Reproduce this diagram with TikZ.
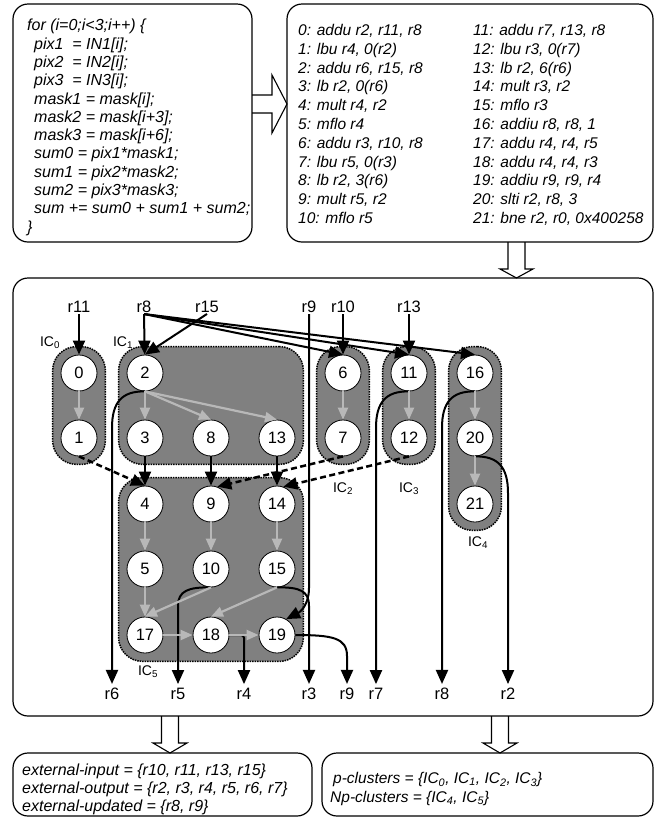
\documentclass[tikz,border=0pt]{standalone}
\usepackage{fontspec}
\setmainfont{Liberation Sans}
\usetikzlibrary{arrows.meta,fit,backgrounds}

\definecolor{clustergray}{gray}{0.5}
\definecolor{lightarrow}{gray}{0.72}

\tikzset{
  box/.style={draw, line width=1.2pt, rounded corners=15pt, inner sep=0pt},
  listing/.style={font=\fontsize{16}{18.3}\selectfont\itshape, align=left, inner sep=0pt, anchor=north west},
  op/.style={circle, draw, line width=0.8pt, fill=white, minimum size=36pt, inner sep=0pt, font=\fontsize{16.5}{18}\selectfont},
  reg/.style={font=\fontsize{16.5}{18}\selectfont, inner sep=1pt},
  iclabel/.style={font=\fontsize{14}{16}\selectfont, inner sep=0pt},
  cluster/.style={draw=black, densely dotted, line width=1.5pt, fill=clustergray, rounded corners=24pt, inner sep=8pt},
  dep/.style={line width=2pt, -{Triangle[length=14pt,width=12pt]}},
  ddep/.style={dep, line width=2.5pt, dash pattern=on 6pt off 3.5pt},
  gdep/.style={line width=2.2pt, draw=lightarrow, -{Triangle[length=12pt,width=10pt]}},
  blockarrow/.style={draw, line width=1.1pt, fill=white, line join=miter}
}

\begin{document}
\begin{tikzpicture}[x=1pt, y=-1pt]
  \useasboundingbox (0,0) rectangle (658,820);

  % hollow arrows between the frames
  \draw[blockarrow] (252,95) -- (272,95) -- (272,75) -- (287,104) -- (272,133) -- (272,113) -- (252,113);
  \draw[blockarrow] (508,242) -- (508,269) -- (500,269) -- (516.5,278) -- (533,269) -- (525,269) -- (525,242);
  \draw[blockarrow] (161.5,716) -- (161.5,743) -- (153,743) -- (170,753) -- (187,743) -- (178.5,743) -- (178.5,716);
  \draw[blockarrow] (491.5,716) -- (491.5,743) -- (483,743) -- (500,753) -- (517,743) -- (508.5,743) -- (508.5,716);

  % frames
  \node[box, fit={(13,4) (252,242)}] (srcbox) {};
  \node[box, fit={(287,4) (653,242)}] (asmbox) {};
  \node[box, fit={(13,278) (653,716)}] (dfgbox) {};
  \node[box, fit={(13,753) (312,816)}] (extbox) {};
  \node[box, fit={(322,753) (653,816)}] (clubox) {};

  % source loop
  \node[listing] (src) at (27,19) {for (i=0;i<3;i++) \{\\
    \hspace*{7pt}pix1\ \ = IN1[i];\\
    \hspace*{7pt}pix2\ \ = IN2[i];\\
    \hspace*{7pt}pix3\ \ = IN3[i];\\
    \hspace*{7pt}mask1 = mask[i];\\
    \hspace*{7pt}mask2 = mask[i+3];\\
    \hspace*{7pt}mask3 = mask[i+6];\\
    \hspace*{7pt}sum0 = pix1*mask1;\\
    \hspace*{7pt}sum1 = pix2*mask2;\\
    \hspace*{7pt}sum2 = pix3*mask3;\\
    \hspace*{7pt}sum += sum0 + sum1 + sum2;\\
    \}};

  % assembly
  \node[listing, font=\fontsize{15.5}{18.8}\selectfont\itshape] (asmleft) at (298,24) {0: addu r2, r11, r8\\
    1: lbu r4, 0(r2)\\
    2: addu r6, r15, r8\\
    3: lb r2, 0(r6)\\
    4: mult r4, r2\\
    5: mflo r4\\
    6: addu r3, r10, r8\\
    7: lbu r5, 0(r3)\\
    8: lb r2, 3(r6)\\
    9: mult r5, r2\\
    10: mflo r5};
  \node[listing, font=\fontsize{15.5}{18.8}\selectfont\itshape] (asmright) at (473,24) {11: addu r7, r13, r8\\
    12: lbu r3, 0(r7)\\
    13: lb r2, 6(r6)\\
    14: mult r3, r2\\
    15: mflo r3\\
    16: addiu r8, r8, 1\\
    17: addu r4, r4, r5\\
    18: addu r4, r4, r3\\
    19: addiu r9, r9, r4\\
    20: slti r2, r8, 3\\
    21: bne r2, r0, 0x400258};

  % instructions
  \foreach \n/\x/\y in {0/79/373, 1/79/438, 2/145/373, 3/145/438, 8/211/438, 13/277/438,
      6/343/373, 7/343/438, 11/409/373, 12/409/438, 16/475/373, 20/475/438, 21/475/504,
      4/145/504, 9/211/504, 14/277/504, 5/145/569, 10/211/569, 15/277/569,
      17/145/635, 18/211/635, 19/277/635}
    \node[op] (n\n) at (\x,\y) {\n};

  % clusters
  \begin{scope}[on background layer]
    \node[cluster, fit=(n0)(n1)] (ic0) {};
    \node[cluster, fit=(n2)(n3)(n8)(n13)] (ic1) {};
    \node[cluster, fit=(n6)(n7)] (ic2) {};
    \node[cluster, fit=(n11)(n12)] (ic3) {};
    \node[cluster, fit=(n16)(n20)(n21)] (ic4) {};
    \node[cluster, fit=(n4)(n14)(n17)(n19)] (ic5) {};
  \end{scope}
  \node[iclabel] (ic0lab) at (50,343) {IC\textsubscript{0}};
  \node[iclabel] (ic1lab) at (123,343) {IC\textsubscript{1}};
  \node[iclabel] (ic2lab) at (343,489) {IC\textsubscript{2}};
  \node[iclabel] (ic3lab) at (409,489) {IC\textsubscript{3}};
  \node[iclabel] (ic4lab) at (478,543) {IC\textsubscript{4}};
  \node[iclabel] (ic5lab) at (148,672) {IC\textsubscript{5}};

  % registers in
  \node[reg] (in11) at (79,307) {r11};
  \node[reg] (in8) at (144,307) {r8};
  \node[reg] (in15) at (207,307) {r15};
  \node[reg] (in9) at (309,307) {r9};
  \node[reg] (in10) at (343,307) {r10};
  \node[reg] (in13) at (409,307) {r13};
  % registers out
  \foreach \r/\x in {6/112, 5/178, 4/244, 3/309, 9/347, 7/376, 8/442, 2/508}
    \node[reg, inner sep=4pt] (out\r) at (\x,694) {r\r};

  % live-in edges
  \draw[dep] (in11) -- (n0);
  \draw[dep] (in8.south) -- (n2);
  \draw[dep] (in8.south) -- (n6.north);
  \draw[dep] (in8.south) -- (n11.north);
  \draw[dep] (in8.south) -- (n16.north);
  \draw[dep] (in15.south) -- (n2.north);
  \draw[dep] (in10) -- (n6);
  \draw[dep] (in13) -- (n11);
  \draw[dep] (in9.south) -- (309,588) .. controls (309,605) and (300,612) .. (n19.60);

  % live-out edges
  \draw[dep] (n2.south) .. controls (122,391) and (112,402) .. (112,428) -- (out6);
  \draw[dep] (n11.south) .. controls (386,391) and (376,402) .. (376,428) -- (out7);
  \draw[dep] (n16.south) .. controls (452,391) and (442,402) .. (442,428) -- (out8);
  \draw[dep] (n20.south) .. controls (498,456) and (508,467) .. (508,493) -- (out2);
  \draw[dep] (n10.south) .. controls (188,587) and (178,591) .. (178,606) -- (out5);
  \draw[dep] (n15.south) .. controls (300,587) and (309,591) .. (309,606) -- (out3);
  \draw[dep, rounded corners=3pt] (n18.east) -| (out4);
  \draw[dep] (n19.east) .. controls (333,635) and (347,638) .. (347,656) -- (out9);

  % edges between clusters
  \draw[dep] (n3) -- (n4);
  \draw[dep] (n8) -- (n9);
  \draw[dep] (n13) -- (n14);
  \draw[ddep] (n1.south) -- (n4.north);
  \draw[ddep] (n7.south) -- (n9.70);
  \draw[ddep] (n12.south) -- (n14.70);

  % edges inside clusters
  \foreach \a/\b in {0/1, 2/3, 6/7, 11/12, 16/20, 20/21, 4/5, 9/10, 14/15, 5/17, 17/18, 18/19}
    \draw[gdep] (n\a) -- (n\b);
  \foreach \a/\b in {2/8, 2/13, 10/17, 15/18}
    \draw[gdep] (n\a.south) -- (n\b.north);

  % register sets
  \node[listing, font=\fontsize{16}{18}\selectfont\itshape] (ext) at (22,764) {external-input = \{r10, r11, r13, r15\}\\
    external-output = \{r2, r3, r4, r5, r6, r7\}\\
    external-updated = \{r8, r9\}};
  \node[listing, font=\fontsize{15.5}{19}\selectfont\itshape] (clu) at (330,772) {\hspace*{3pt}p-clusters = \{IC\textsubscript{0}, IC\textsubscript{1}, IC\textsubscript{2}, IC\textsubscript{3}\}\\
    Np-clusters = \{IC\textsubscript{4}, IC\textsubscript{5}\}};
\end{tikzpicture}
\end{document}
